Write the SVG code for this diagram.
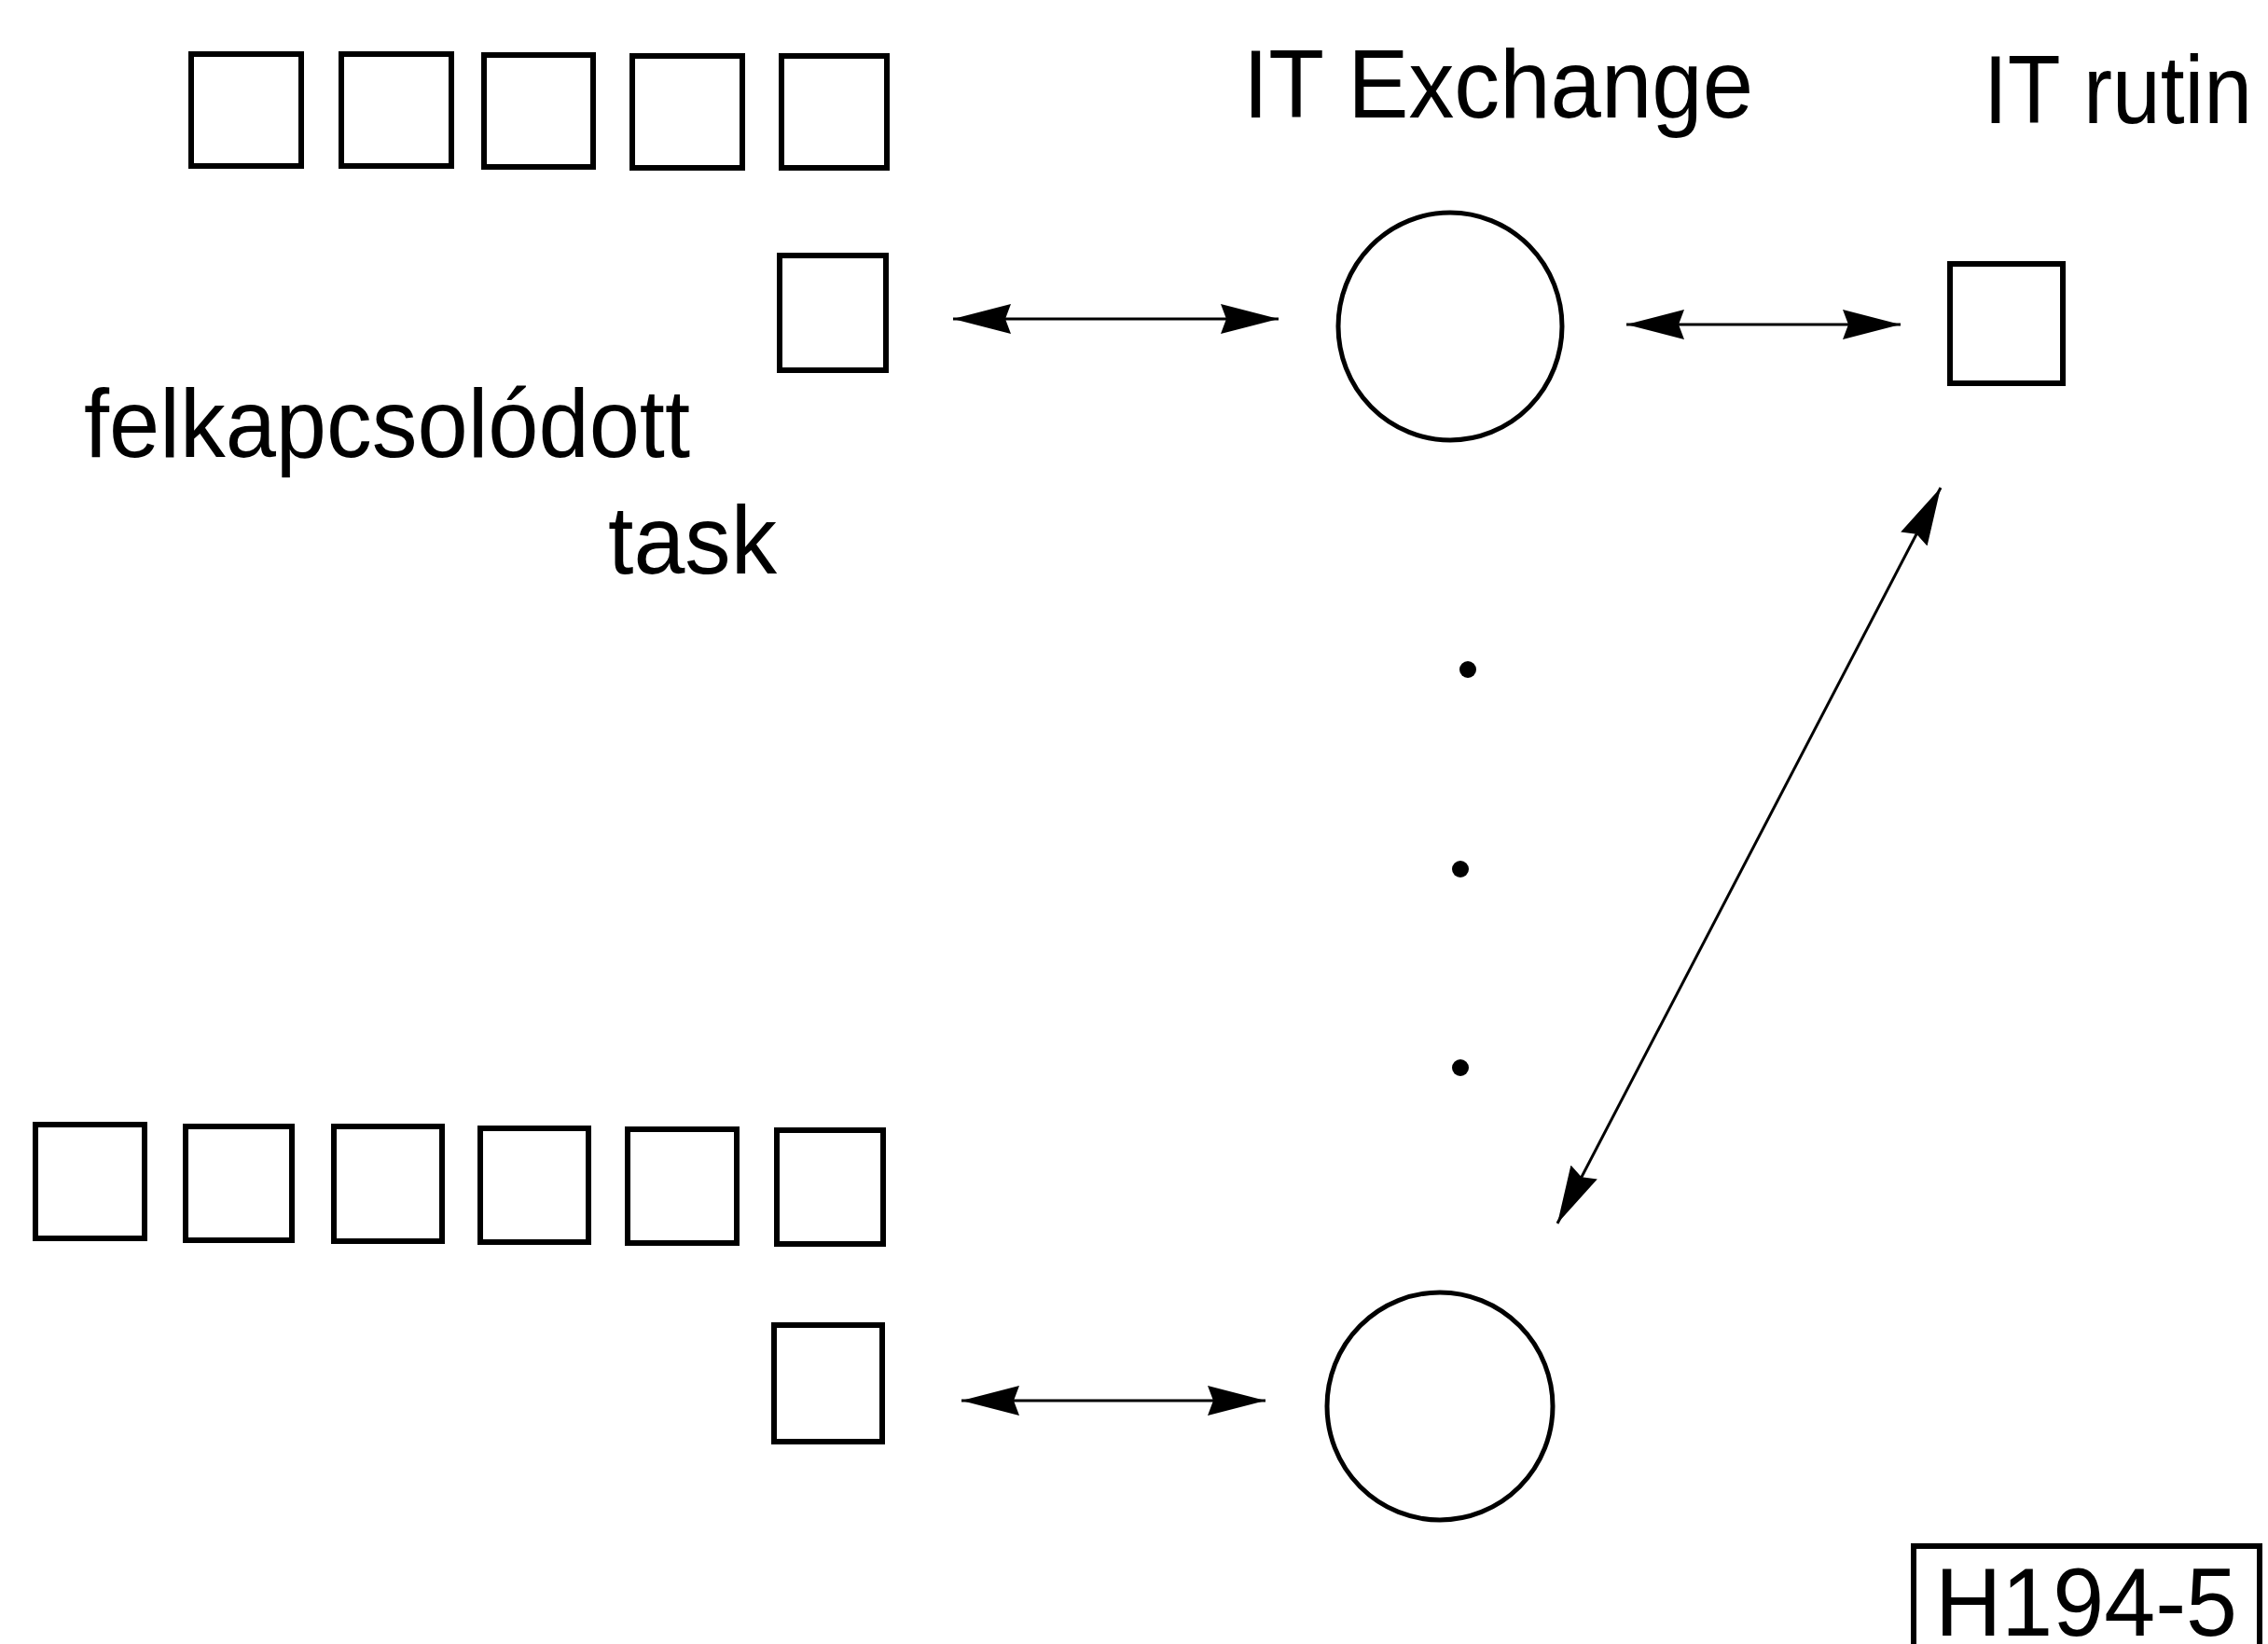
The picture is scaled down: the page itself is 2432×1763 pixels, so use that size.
<svg xmlns="http://www.w3.org/2000/svg" width="2432" height="1763" viewBox="0 0 2432 1763">
  <style>
    .box { fill: none; stroke: #000; stroke-width: 6; }
    .ring { fill: none; stroke: #000; stroke-width: 5; }
    .link { fill: none; stroke: #000; stroke-width: 3; marker-start: url(#head); marker-end: url(#head); }
    .dot { fill: #000; }
    .label { font-family: "Liberation Sans", Arial, sans-serif; font-size: 103px; fill: #000; }
  </style>
  <defs>
    <marker id="head" markerUnits="userSpaceOnUse" markerWidth="64" markerHeight="36" viewBox="0 0 64 36" refX="62" refY="18" orient="auto-start-reverse">
      <path d="M0,2 L62,18 L0,34 L6,18 Z" fill="#000"/>
    </marker>
  </defs>
  <rect width="2432" height="1763" fill="#fff"/>

  <!-- upper task queue -->
  <g id="queue-top">
    <rect class="box" x="205" y="58" width="118" height="120"/>
    <rect class="box" x="366" y="58" width="118" height="120"/>
    <rect class="box" x="519" y="59" width="117" height="120"/>
    <rect class="box" x="678" y="60" width="118" height="120"/>
    <rect class="box" x="838" y="60" width="113" height="120"/>
  </g>
  <g id="task-top"><rect class="box" x="836" y="274" width="114" height="123"/></g>
  <g id="exchange-top"><ellipse class="ring" cx="1555" cy="350" rx="120" ry="122"/></g>
  <g id="rutin"><rect class="box" x="2091" y="283" width="121" height="128"/></g>

  <!-- lower task queue -->
  <g id="queue-bottom">
    <rect class="box" x="38" y="1206" width="117" height="122"/>
    <rect class="box" x="199" y="1208" width="114" height="122"/>
    <rect class="box" x="358" y="1208" width="116" height="123"/>
    <rect class="box" x="515" y="1210" width="116" height="122"/>
    <rect class="box" x="673" y="1211" width="117" height="122"/>
    <rect class="box" x="833" y="1212" width="114" height="122"/>
  </g>
  <g id="task-bottom"><rect class="box" x="830" y="1421" width="116" height="125"/></g>
  <g id="exchange-bottom"><ellipse class="ring" cx="1544" cy="1508" rx="121" ry="122"/></g>

  <!-- ellipsis between the exchanges -->
  <g id="ellipsis">
    <circle class="dot" cx="1574" cy="718" r="9"/>
    <circle class="dot" cx="1566" cy="932" r="9"/>
    <circle class="dot" cx="1566" cy="1145" r="9"/>
  </g>

  <g id="connectors">
    <line class="link" x1="1022" y1="342" x2="1371" y2="342"/>
    <line class="link" x1="1744" y1="348" x2="2038" y2="348"/>
    <line class="link" x1="1031" y1="1502" x2="1357" y2="1502"/>
    <line class="link" x1="1670" y1="1312" x2="2081" y2="523"/>
  </g>

  <g id="labels">
    <text class="label" x="1333" y="126" textLength="547" lengthAdjust="spacingAndGlyphs">IT Exchange</text>
    <text class="label" x="2127" y="132" textLength="288" lengthAdjust="spacingAndGlyphs">IT rutin</text>
    <text class="label" x="90" y="490" textLength="650" lengthAdjust="spacingAndGlyphs">felkapcsolódott</text>
    <text class="label" x="652" y="615" textLength="181" lengthAdjust="spacingAndGlyphs">task</text>
  </g>

  <g id="figure-id">
    <rect class="box" x="2052" y="1658" width="371" height="150"/>
    <text class="label" x="2075" y="1754" textLength="324" lengthAdjust="spacingAndGlyphs">H194-5</text>
  </g>
</svg>
